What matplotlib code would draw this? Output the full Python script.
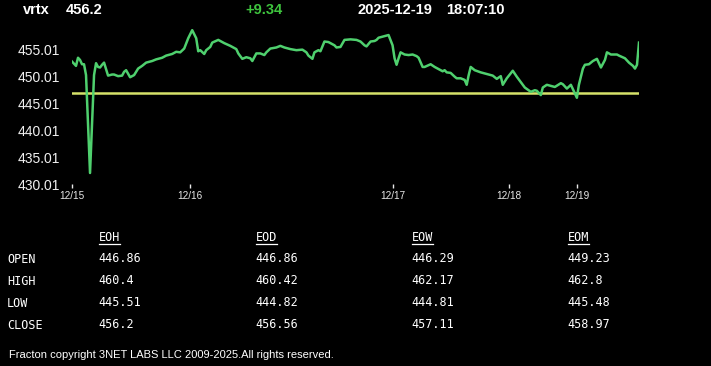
import matplotlib
matplotlib.use("Agg")
import matplotlib.pyplot as plt
from matplotlib.lines import Line2D

# ---------------- data ----------------
symbol = "vrtx"
last_price = "456.2"
change = "+9.34"
date_str = "2025-12-19"
time_str = "18:07:10"

bars = [0, 2, 3, 4, 5, 6, 7, 8, 9, 10, 11, 12, 13, 14, 15, 16, 18, 20, 21, 23,
        25, 26, 27, 29, 31, 33, 35, 37, 40, 42, 45, 47, 50, 52, 54, 56, 58, 60, 62, 63,
        64, 66, 67, 69, 70, 73, 76, 79, 82, 83, 85, 87, 89, 90, 92, 94, 96, 97, 99, 102,
        104, 106, 109, 112, 115, 117, 118, 120, 121, 123, 124, 126, 128, 131, 132, 134, 136, 139, 142, 144,
        146, 147, 149, 151, 152, 153, 156, 158, 160, 161, 162, 163, 164, 166, 168, 170, 172, 173, 175, 176,
        179, 181, 183, 185, 186, 187, 189, 191, 192, 194, 196, 197, 198, 199, 201, 204, 207, 210, 212, 214,
        215, 217, 220, 222, 224, 226, 229, 231, 232, 234, 235, 237, 239, 241, 244, 245, 247, 249, 250, 252,
        253, 255, 256, 258, 260, 262, 264, 266, 267, 269, 272, 273, 276, 278, 280, 281, 282, 283]
prices = [452.7, 451.9, 453.4, 453.0, 452.2, 452.2, 450.2, 441.0, 432.1, 441.0, 450.2, 452.4, 451.7, 451.6, 452.1, 452.5, 450.1, 450.3, 450.3, 450.0,
          450.1, 450.8, 451.1, 449.8, 450.2, 451.4, 451.9, 452.5, 452.8, 453.1, 453.4, 453.8, 454.1, 454.5, 454.4, 455.1, 457.0, 458.5, 457.0, 454.6,
          454.8, 454.1, 454.8, 455.4, 456.2, 456.7, 456.1, 455.6, 455.0, 454.2, 453.2, 453.5, 453.3, 452.8, 454.2, 454.2, 453.9, 454.4, 455.1, 455.3,
          455.6, 455.3, 455.0, 454.8, 454.9, 454.4, 453.8, 453.2, 454.4, 454.8, 454.6, 456.4, 456.3, 455.7, 455.3, 455.4, 456.7, 456.8, 456.7, 456.4,
          455.7, 455.5, 456.4, 456.5, 456.7, 457.1, 457.4, 457.6, 455.7, 453.3, 452.1, 453.3, 454.4, 454.0, 453.9, 454.0, 453.7, 453.4, 451.7, 451.7,
          452.2, 451.7, 451.3, 450.9, 451.1, 450.7, 450.6, 449.9, 449.6, 449.6, 449.3, 448.4, 450.2, 451.7, 451.1, 450.7, 450.4, 450.1, 449.5, 450.0,
          448.4, 449.6, 451.0, 449.9, 448.9, 447.9, 447.1, 447.4, 447.3, 446.5, 447.9, 448.4, 448.2, 448.0, 448.7, 448.5, 447.7, 448.4, 447.6, 446.0,
          448.4, 451.4, 452.1, 452.2, 452.8, 453.2, 451.6, 453.0, 454.4, 454.0, 454.0, 453.8, 453.3, 452.5, 451.9, 451.4, 452.1, 456.2]
open_level = 446.86

day_ticks = [0, 59, 160, 218, 252]
day_labels = ["12/15", "12/16", "12/17", "12/18", "12/19"]
y_ticks = [430.01, 435.01, 440.01, 445.01, 450.01, 455.01]

col_headers = ["EOH", "EOD", "EOW", "EOM"]
row_labels = ["OPEN", "HIGH", "LOW", "CLOSE"]
table_values = [
    ["446.86", "446.86", "446.29", "449.23"],
    ["460.4", "460.42", "462.17", "462.8"],
    ["445.51", "444.82", "444.81", "445.48"],
    ["456.2", "456.56", "457.11", "458.97"],
]
footer = "Fracton copyright 3NET LABS LLC 2009-2025.All rights reserved."

# ---------------- figure ----------------
W, H = 711, 366
fig = plt.figure(figsize=(W / 100, H / 100), dpi=100, facecolor="black")

def fx(px):
    return px / W

def fy(py):
    return 1 - py / H

ax = fig.add_axes([fx(72), fy(184.3), fx(639) - fx(72), fy(28) - fy(184.3)])
ax.set_facecolor("black")
for s in ax.spines.values():
    s.set_visible(False)

ax.axhline(open_level, color="#d6e26a", lw=1.8, zorder=1)
ax.plot(bars, prices, color="#4fd06e", lw=1.8, zorder=2, solid_joinstyle="round")

ax.set_xlim(0, 283)
ax.set_ylim(430.01, 458.9)
ax.set_xticks(day_ticks)
ax.set_xticklabels(day_labels, fontsize=7.2, color="#e8e8e8", family="Liberation Sans")
ax.tick_params(axis="x", colors="#e8e8e8", length=3, width=1, pad=2, direction="out")
ax.set_yticks(y_ticks)
ax.set_yticklabels([f"{v:.2f}" for v in y_ticks], fontsize=10.0, color="#f0f0f0",
                   family="Liberation Sans")
ax.tick_params(axis="y", length=0, pad=8.8)

# ---------------- header ----------------
hdr_kw = dict(fontsize=10.5, fontweight="bold", family="Liberation Sans", va="center")
fig.text(fx(23), fy(10), symbol, color="white", **hdr_kw)
fig.text(fx(66), fy(10), last_price, color="white", **hdr_kw)
fig.text(fx(245), fy(10), change, color="#3ec43e", **hdr_kw)
fig.text(fx(358), fy(10), date_str, color="white", **hdr_kw)
fig.text(fx(446), fy(10), time_str, color="white", **hdr_kw)

# ---------------- table ----------------
mono = dict(family="DejaVu Sans Mono", fontsize=8.5, color="white", va="center")
col_x = [99, 256, 412, 568]
row_y = [258, 280, 302, 324]
for cx, h in zip(col_x, col_headers):
    fig.text(fx(cx), fy(238), h, **mono)
    fig.add_artist(Line2D([fx(cx), fx(cx + 21)], [fy(243.5), fy(243.5)],
                          color="white", lw=0.9, transform=fig.transFigure))
for ry, lab in zip(row_y, row_labels):
    fig.text(fx(7), fy(ry + 1.5), lab, **mono)
for ry, rowvals in zip(row_y, table_values):
    for cx, v in zip(col_x, rowvals):
        fig.text(fx(cx - 1), fy(ry), v, **mono)

fig.text(fx(9), fy(355), footer, color="white", fontsize=8.0,
         family="Liberation Sans", va="center")

fig.savefig("out.png", dpi=100, facecolor="black")
